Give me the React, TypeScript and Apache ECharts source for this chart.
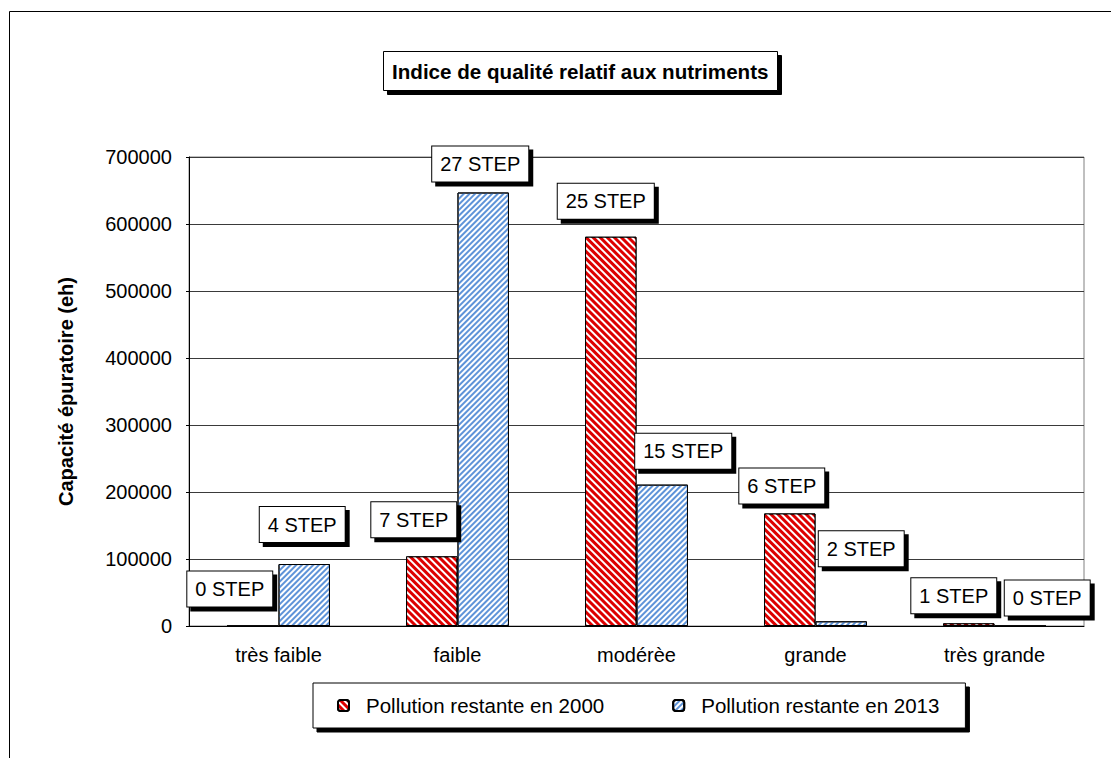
import React, { useEffect, useRef } from "react";
import * as echarts from "echarts";

// Nutrient quality classes on the x axis
const categories = ["très faible", "faible", "modérèe", "grande", "très grande"];

// Remaining pollution (purification capacity, eh)
const values2000 = [0, 104000, 581000, 168000, 4000];
const values2013 = [92500, 647000, 211000, 7000, 0];

// Number of treatment plants (STEP) per class
const steps2000 = [0, 7, 25, 6, 1];
const steps2013 = [4, 27, 15, 2, 0];

// Y axis ticks
const yMin = 0;
const yMax = 700000;
const yInterval = 100000;

// Placement of each label box relative to the top of its bar
const labelOffsets2000: [number, number][] = [
  [-23, -19],
  [-18, -19],
  [-5, -18],
  [-8, -10],
  [-15, -10],
];
const labelOffsets2013: [number, number][] = [
  [-2, -22],
  [-3, -11],
  [21, -16],
  [20, -55],
  [27, -10],
];

const FONT = "'Liberation Sans', Arial, sans-serif";

const boxLabel = {
  show: true,
  position: "top" as const,
  distance: 0,
  color: "#000",
  fontFamily: FONT,
  fontSize: 20,
  lineHeight: 21,
  backgroundColor: "#fff",
  borderColor: "#000",
  borderWidth: 1,
  padding: [7, 8, 7, 8],
  shadowColor: "#000",
  shadowBlur: 0,
  shadowOffsetX: 4,
  shadowOffsetY: 4,
};

function buildData(values: number[], offsets: [number, number][]) {
  return values.map((v, i) => ({
    value: v,
    label: { offset: offsets[i] },
  }));
}

export default function App() {
  const ref = useRef<HTMLDivElement>(null);

  useEffect(() => {
    if (!ref.current) return;
    const chart = echarts.init(ref.current, undefined, { renderer: "svg" });

    chart.setOption({
      animation: false,
      backgroundColor: "#fff",
      textStyle: { fontFamily: FONT, color: "#000" },
      title: {
        text: "Indice de qualité relatif aux nutriments",
        left: 383,
        top: 52,
        padding: [9, 9, 9, 9],
        backgroundColor: "#fff",
        borderColor: "#000",
        borderWidth: 1,
        shadowColor: "#000",
        shadowBlur: 0,
        shadowOffsetX: 4,
        shadowOffsetY: 4,
        textStyle: {
          fontFamily: FONT,
          fontSize: 20.6,
          fontWeight: "bold",
          color: "#000",
          lineHeight: 20,
        },
      },
      legend: {
        left: 313,
        top: 683,
        padding: [12, 26, 12, 24],
        itemWidth: 11,
        itemHeight: 11,
        itemGap: 68,
        backgroundColor: "#fff",
        borderColor: "#000",
        borderWidth: 1,
        shadowColor: "#000",
        shadowBlur: 0,
        shadowOffsetX: 4,
        shadowOffsetY: 4,
        textStyle: {
          fontFamily: FONT,
          fontSize: 20.5,
          color: "#000",
          padding: [0, 0, 0, 12],
        },
        data: ["Pollution restante en 2000", "Pollution restante en 2013"],
      },
      graphic: [
        {
          type: "rect",
          silent: true,
          shape: { x: 9.5, y: 11.5, width: 1300, height: 900 },
          style: { fill: "none", stroke: "#000", lineWidth: 1 },
        },
      ],
      grid: {
        left: 189,
        top: 157,
        right: 27,
        bottom: 132,
        show: true,
        borderColor: "#808080",
        borderWidth: 1,
        backgroundColor: "transparent",
      },
      xAxis: {
        type: "category",
        data: categories,
        axisLine: { lineStyle: { color: "#000", width: 1 } },
        axisTick: { inside: true, length: 6, lineStyle: { color: "#000" } },
        axisLabel: {
          margin: 19,
          fontFamily: FONT,
          fontSize: 20,
          color: "#000",
        },
        splitLine: { show: false },
      },
      yAxis: {
        type: "value",
        min: yMin,
        max: yMax,
        interval: yInterval,
        name: "Capacité épuratoire (eh)",
        nameLocation: "middle",
        nameGap: 113,
        nameTextStyle: {
          fontFamily: FONT,
          fontSize: 20,
          fontWeight: "bold",
          color: "#000",
        },
        axisLine: { show: true, lineStyle: { color: "#000", width: 1 } },
        axisTick: { show: true, length: 3, lineStyle: { color: "#000" } },
        axisLabel: {
          margin: 17,
          fontFamily: FONT,
          fontSize: 20,
          color: "#000",
          formatter: (v: number) => String(v),
        },
        splitLine: { show: true, lineStyle: { color: "#3a3a3a", width: 1 } },
      },
      series: [
        {
          name: "Pollution restante en 2000",
          type: "bar",
          barGap: "0%",
          barCategoryGap: "42.5%",
          data: buildData(values2000, labelOffsets2000),
          itemStyle: {
            color: "#dd0000",
            borderColor: "#000",
            borderWidth: 1,
            decal: {
              symbol: "rect",
              symbolSize: 1,
              color: "#ffffff",
              dashArrayX: [1, 0],
              dashArrayY: [1.4, 2.1],
              rotation: Math.PI / 4,
            },
          },
          label: {
            ...boxLabel,
            formatter: (p: any) => `${steps2000[p.dataIndex]} STEP`,
          },
        },
        {
          name: "Pollution restante en 2013",
          type: "bar",
          barGap: "0%",
          barCategoryGap: "42.5%",
          data: buildData(values2013, labelOffsets2013),
          itemStyle: {
            color: "#ffffff",
            borderColor: "#000",
            borderWidth: 1,
            decal: {
              symbol: "rect",
              symbolSize: 1,
              color: "#5e93d8",
              dashArrayX: [1, 0],
              dashArrayY: [1.8, 1.7],
              rotation: -Math.PI / 4,
            },
          },
          label: {
            ...boxLabel,
            formatter: (p: any) => `${steps2013[p.dataIndex]} STEP`,
          },
        },
      ],
    });

    return () => chart.dispose();
  }, []);

  return (
    <div
      ref={ref}
      style={{
        position: "fixed",
        left: 0,
        top: 0,
        width: 1111,
        height: 758,
        background: "#fff",
      }}
    />
  );
}
